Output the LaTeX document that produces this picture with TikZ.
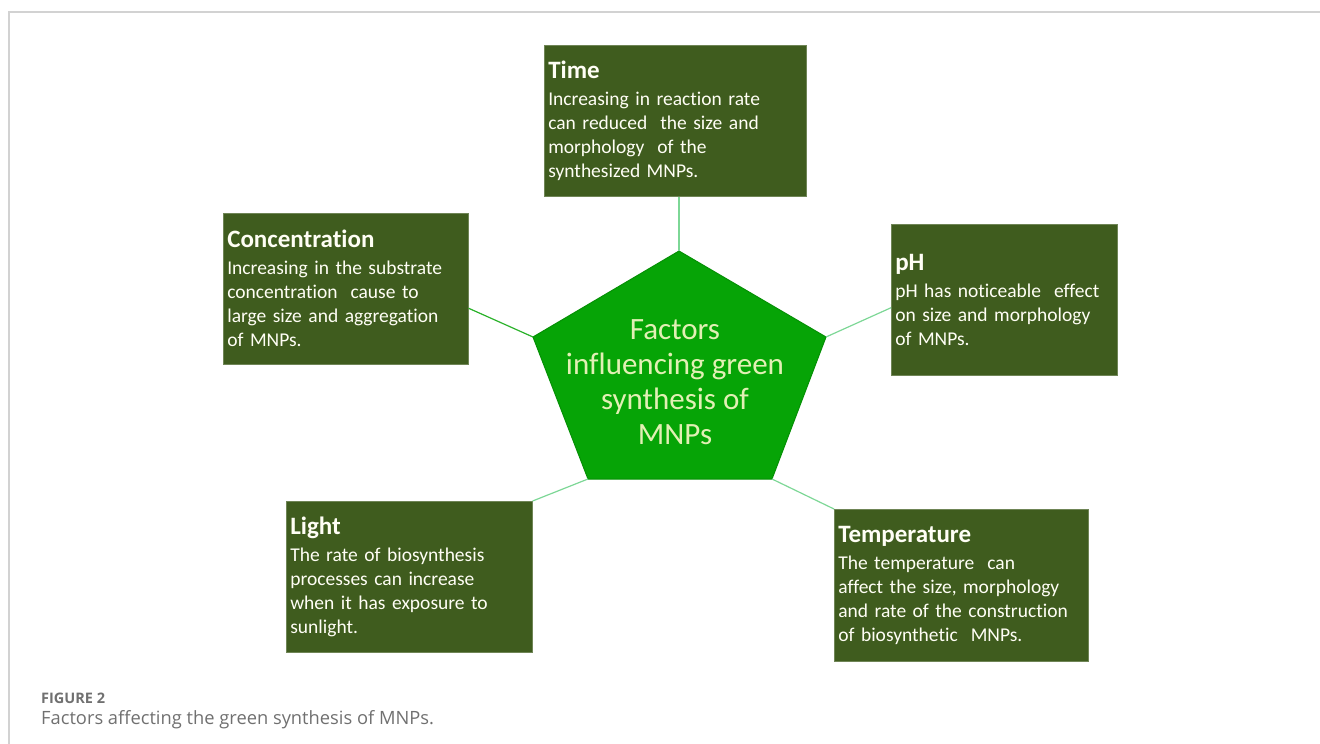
\documentclass[tikz,border=0pt]{standalone}
\usepackage{fontspec}
\setmainfont{Carlito}[Ligatures={NoCommon}]
\newfontfamily\capfont{Open Sans}
\usetikzlibrary{positioning,calc}
\definecolor{boxgreen}{RGB}{63,92,30}
\definecolor{hubgreen}{RGB}{6,164,6}
\definecolor{hubtext}{RGB}{226,240,180}
\definecolor{linkgreen}{RGB}{125,215,150}
\definecolor{framegray}{RGB}{210,210,210}
\definecolor{capgray}{RGB}{112,112,112}
\tikzset{
  factor/.style={fill=boxgreen, draw=boxgreen!75!white, line width=0.6pt, text=white!96!yellow,
    align=left, inner xsep=4pt, inner ysep=0pt, minimum height=151pt, anchor=north west,
    font=\fontsize{19.5}{24}\selectfont},
  hub/.style={text=hubtext, align=center, font=\fontsize{31}{35}\selectfont},
  link/.style={draw=linkgreen, line width=1.2pt},
}
\newcommand{\ftitle}[1]{{\fontsize{25}{26}\selectfont\bfseries #1}\\[3pt]}

\begin{document}
\begin{tikzpicture}[x=1pt,y=-1pt]
  \useasboundingbox (0,0) rectangle (1320,744);
  \draw[framegray, line width=1.5pt] (9,744) -- (9,12) -- (1320,12);

  % factor boxes
  \node[factor, text width=254pt] (time) at (544,45) {\ftitle{Time}Increasing in reaction rate\\can reduced\ \ the size and\\morphology\ \ of the\\synthesized MNPs.};
  \node[factor, text width=237pt] (conc) at (223,213) {\ftitle{Concentration}Increasing in the substrate\\concentration\ \ cause to\\large size and aggregation\\of MNPs.};
  \node[factor, text width=218pt] (ph) at (891,224) {\ftitle{pH}pH has noticeable\ \ effect\\on size and morphology\\of MNPs.};
  \node[factor, text width=238pt] (light) at (286,501) {\ftitle{Light}The rate of biosynthesis\\processes can increase\\when it has exposure to\\sunlight.};
  \node[factor, text width=246pt, minimum height=152pt] (temp) at (834,509) {\ftitle{Temperature}The temperature\ \ can\\affect the size, morphology\\and rate of the construction\\of biosynthetic\ \ MNPs.};

  % central pentagon
  \coordinate (pTop) at (679,251);
  \coordinate (pRight) at (826,337);
  \coordinate (pBR) at (772,479);
  \coordinate (pBL) at (588,479);
  \coordinate (pLeft) at (533,337);
  \filldraw[fill=hubgreen, draw=hubgreen!88!black, line width=1pt] (pTop) -- (pRight) -- (pBR) -- (pBL) -- (pLeft) -- cycle;
  \node[hub] (hubtext) at (675,382) {Factors\\influencing green\\synthesis of\\MNPs};

  % links
  \draw[link] (pTop) -- (time.south -| pTop);
  \draw[link, draw=hubgreen!85!white] (pLeft) -- (conc.-9);
  \draw[link] (pRight) -- (ph.184);
  \draw[link] (pBL) -- (light.north east);
  \draw[link] (pBR) -- (temp.north west);

  % caption
  \node[anchor=base west, inner sep=0pt, text=capgray, font=\capfont\fontsize{14.5}{16}\selectfont\bfseries] (figno) at (41,703) {FIGURE 2};
  \node[anchor=base west, inner sep=0pt, text=capgray, font=\capfont\fontsize{18.3}{20}\selectfont] (figcap) at (41,724) {Factors affecting the green synthesis of MNPs.};
\end{tikzpicture}
\end{document}
